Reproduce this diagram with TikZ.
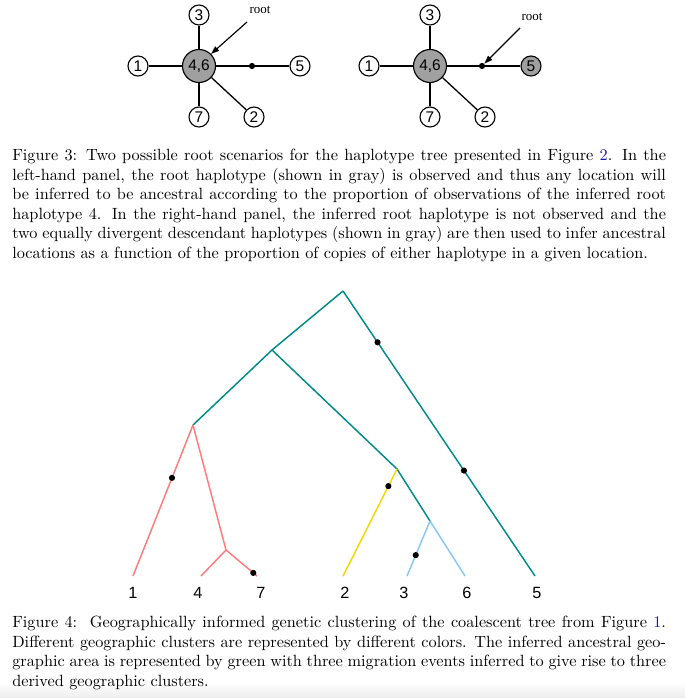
\documentclass[tikz,border=0pt]{standalone}
\usepackage{fontspec}
\newfontfamily\helvfont{Liberation Sans}
\newfontfamily\timesfont{Liberation Serif}
\usepackage{xcolor}
\definecolor{treeTeal}{HTML}{008B8B}
\definecolor{treeRed}{HTML}{FF7B7B}
\definecolor{treeYellow}{HTML}{F5D800}
\definecolor{treeBlue}{HTML}{88C8F8}
\definecolor{nodeGray}{HTML}{A0A0A0}
\definecolor{linkBlue}{HTML}{1A1AA6}
\usetikzlibrary{arrows.meta}

\begin{document}
\begin{tikzpicture}[
		x=0.615pt, y=-0.615pt,
		hap/.style={
			draw,
			circle,
			line width=0.7pt,
			inner sep=0pt,
			minimum size=12.3pt,
			font=\helvfont\fontsize{9.5}{10}\selectfont
		},
		hapbig/.style={hap, fill=nodeGray, minimum size=20.3pt},
		hapedge/.style={line width=0.8pt},
		mut/.style={circle, fill=black, inner sep=0pt, minimum size=3.8pt},
		rootlabel/.style={inner sep=0pt, font=\timesfont\fontsize{8}{9}\selectfont},
		rootarrow/.style={-{Triangle[length=5pt, width=3.5pt]}, line width=0.7pt},
		branch/.style={line width=0.9pt, line join=round},
		leaflabel/.style={inner sep=0pt, font=\helvfont\fontsize{10}{12}\selectfont},
		captiontext/.style={anchor=north west, inner sep=0pt, text width=402pt, align=justify}
		]
		
		\useasboundingbox (0,0) rectangle (685,698);
		\shade[top color=white, bottom color=black!7] (0,682) rectangle (685,698);
		
		% left panel: root observed
		\node[hapbig] (l46) at (199,66) {4,6};
		\node[hap] (l3) at (199,15) {3};
		\node[hap] (l1) at (138,66) {1};
		\node[hap] (l7) at (199,117) {7};
		\node[hap] (l2) at (254,117) {2};
		\node[hap] (l5) at (300,66) {5};
		\draw[hapedge] (l46) -- (l3);
		\draw[hapedge] (l46) -- (l1);
		\draw[hapedge] (l46) -- (l7);
		\draw[hapedge] (l46) -- (l2);
		\draw[hapedge] (l46) -- (l5);
		\node[mut] (lm) at (252,66) {};
		\node[rootlabel] (lroot) at (260,10) {root};
		\coordinate (lrootfrom) at (247,22);
		\draw[rootarrow] (lrootfrom) -- (l46.north east);
		
		% right panel: root not observed
		\node[hapbig] (r46) at (430,66) {4,6};
		\node[hap] (r3) at (430,15) {3};
		\node[hap] (r1) at (369,66) {1};
		\node[hap] (r7) at (430,117) {7};
		\node[hap] (r2) at (485,117) {2};
		\node[hap, fill=nodeGray] (r5) at (531,66) {5};
		\draw[hapedge] (r46) -- (r3);
		\draw[hapedge] (r46) -- (r1);
		\draw[hapedge] (r46) -- (r7);
		\draw[hapedge] (r46) -- (r2);
		\draw[hapedge] (r46) -- (r5);
		\node[mut] (rm) at (482,66) {};
		\node[rootlabel] (rroot) at (532,17) {root};
		\coordinate (rrootfrom) at (520,28);
		\draw[rootarrow] (rrootfrom) -- (rm.north east);
		
		\node[captiontext] (cap3) at (12,149) {Figure 3: Two possible root scenarios for the haplotype tree presented in Figure \textcolor{linkBlue}{2}. In the\linebreak
			left-hand panel, the root haplotype (shown in gray) is observed and thus any location will\linebreak
			be inferred to be ancestral according to the proportion of observations of the inferred root\linebreak
			haplotype 4. In the right-hand panel, the inferred root haplotype is not observed and the\linebreak
			two equally divergent descendant haplotypes (shown in gray) are then used to infer ancestral\linebreak
			locations as a function of the proportion of copies of either haplotype in a given location.};
		
		% coalescent tree
		\coordinate (top) at (343,291);
		\coordinate (left) at (272,350);
		\coordinate (redroot) at (193,425);
		\coordinate (mid) at (397,469);
		\coordinate (blueroot) at (430,521);
		\coordinate (redsub) at (226,550);
		\coordinate (leaf1) at (133,576);
		\coordinate (leaf4) at (201,576);
		\coordinate (leaf7) at (257,576);
		\coordinate (leaf2) at (343,576);
		\coordinate (leaf3) at (407,576);
		\coordinate (leaf6) at (465,576);
		\coordinate (leaf5) at (535,576);
		
		\draw[branch, treeTeal] (redroot) -- (left) -- (top);
		\draw[branch, treeTeal] (top) -- (leaf5) node[mut, pos=0.18] (m1) {} node[mut, pos=0.63] (m2) {};
		\draw[branch, treeTeal] (left) -- (mid) -- (blueroot);
		\draw[branch, treeRed] (redroot) -- (leaf1) node[mut, pos=0.35] (m3) {};
		\draw[branch, treeRed] (redroot) -- (redsub) -- (leaf4);
		\draw[branch, treeRed] (redsub) -- (leaf7) node[mut, pos=0.88] (m4) {};
		\draw[branch, treeYellow] (mid) -- (leaf2) node[mut, pos=0.16] (m5) {};
		\draw[branch, treeBlue] (blueroot) -- (leaf3) node[mut, pos=0.62] (m6) {};
		\draw[branch, treeBlue] (blueroot) -- (leaf6);
		
		\node[leaflabel] (lab1) at (133,593) {1};
		\node[leaflabel] (lab4) at (198,593) {4};
		\node[leaflabel] (lab7) at (261,593) {7};
		\node[leaflabel] (lab2) at (345,593) {2};
		\node[leaflabel] (lab3) at (404,593) {3};
		\node[leaflabel] (lab6) at (467,593) {6};
		\node[leaflabel] (lab5) at (537,593) {5};
		
		\node[captiontext] (cap4) at (12,616) {Figure 4:\ \ Geographically informed genetic clustering of the coalescent tree from Figure \textcolor{linkBlue}{1}.\linebreak
			Different geographic clusters are represented by different colors. The inferred ancestral geo-\linebreak
			graphic area is represented by green with three migration events inferred to give rise to three\linebreak
			derived geographic clusters.};
		
	\end{tikzpicture}
\end{document}
